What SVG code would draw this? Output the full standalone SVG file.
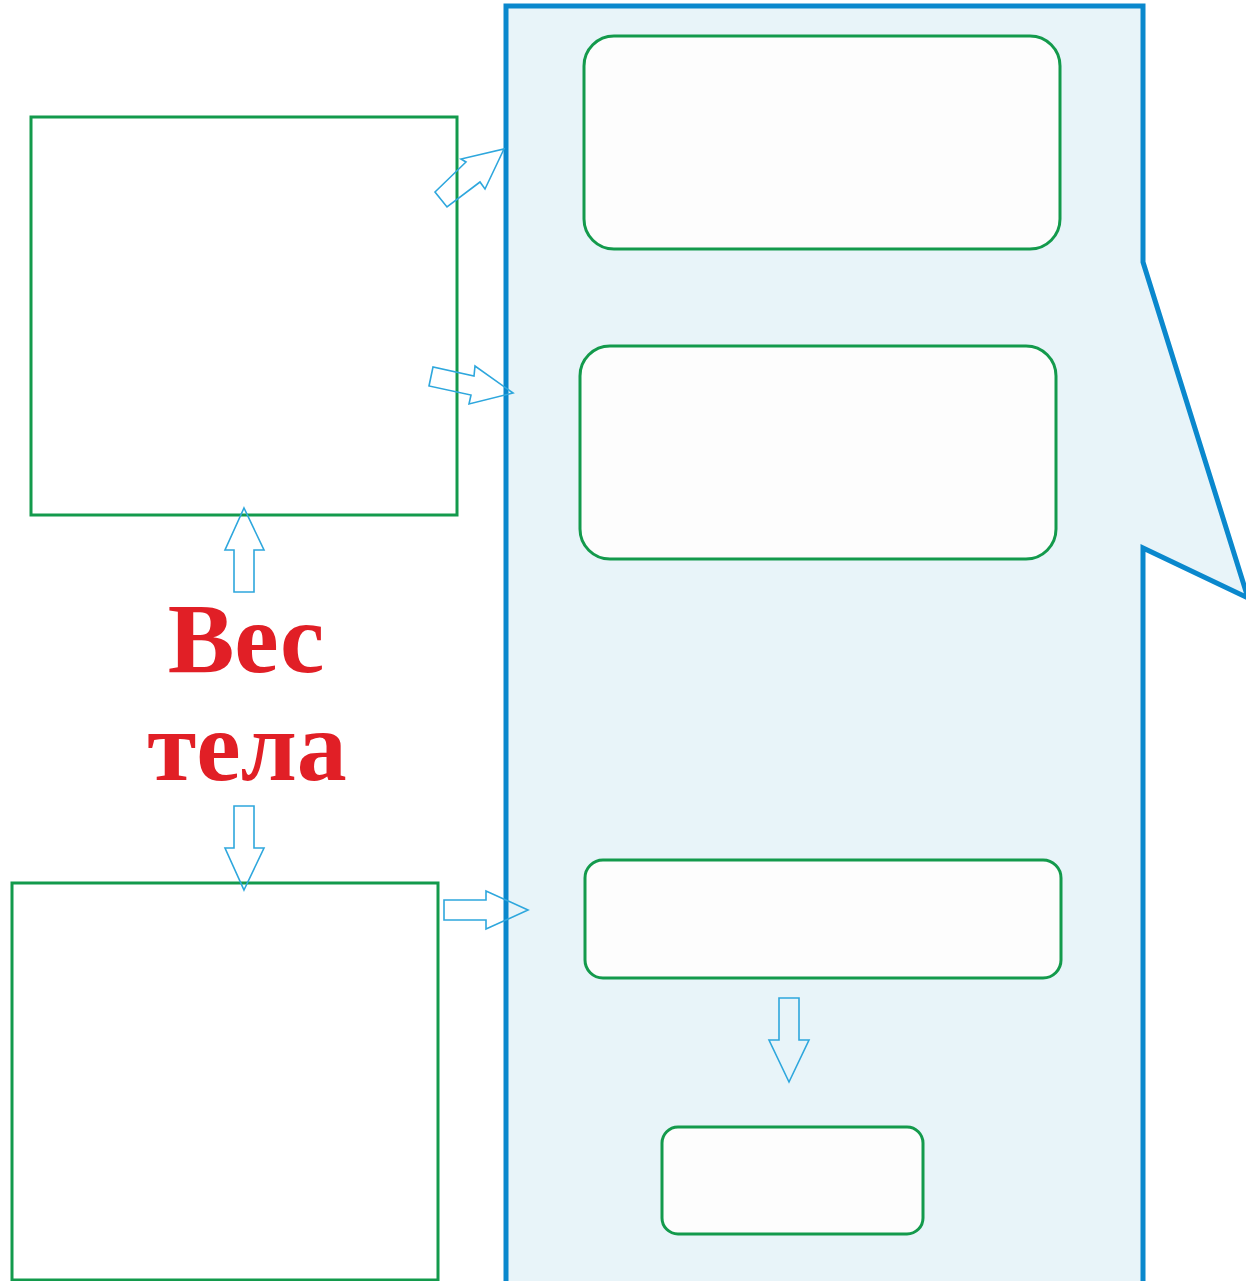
<svg xmlns="http://www.w3.org/2000/svg" width="1246" height="1281" viewBox="0 0 1246 1281">
  <style>
    .box { fill: #ffffff; stroke: #139a4c; stroke-width: 3; }
    .rbox { fill: #fdfdfd; stroke: #139a4c; stroke-width: 3; }
    .arrow { fill: none; stroke: #2ea7dd; stroke-width: 1.6; stroke-linejoin: miter; }
    .title { font-family: "Liberation Serif", "Times New Roman", serif; font-weight: bold; font-size: 100px; fill: #e11f26; text-anchor: middle; }
  </style>
  <rect width="1246" height="1281" fill="#ffffff"/>

  <!-- callout panel -->
  <g id="panel">
    <path d="M506,1284 L506,6 L1143,6 L1143,262 L1248,598 L1143,548 L1143,1284" fill="#e8f4f9" stroke="#0a88cd" stroke-width="5" stroke-linejoin="miter"/>
  </g>

  <g id="box-left-top"><rect class="box" x="31" y="117" width="426" height="398"/></g>
  <g id="box-left-bottom"><rect class="box" x="12" y="883" width="426" height="397"/></g>

  <g id="box-1"><rect class="rbox" x="584" y="36" width="476" height="213" rx="30"/></g>
  <g id="box-2"><rect class="rbox" x="580" y="346" width="476" height="213" rx="30"/></g>
  <g id="box-3"><rect class="rbox" x="585" y="860" width="476" height="118" rx="18"/></g>
  <g id="box-4"><rect class="rbox" x="662" y="1127" width="261" height="107" rx="16"/></g>

  <g id="label">
    <text class="title" x="246" y="672">Вес</text>
    <text class="title" x="247" y="780">тела</text>
  </g>

  <g id="connectors">
    <polygon class="arrow" points="504,149 485,189 480,182 447,207 435,192 466,162 461,159"/>
    <polygon class="arrow" points="513,393 469,404 471,395 429,386 433,367 474,376 475,366"/>
    <polygon class="arrow" points="244,508 264,550 254,550 254,592 234,592 234,550 225,550"/>
    <polygon class="arrow" points="244,890 264,848 254,848 254,806 234,806 234,848 225,848"/>
    <polygon class="arrow" points="528,910 486,891 486,900 444,900 444,920 486,920 486,929"/>
    <polygon class="arrow" points="789,1082 809,1040 799,1040 799,998 779,998 779,1040 769,1040"/>
  </g>
</svg>
